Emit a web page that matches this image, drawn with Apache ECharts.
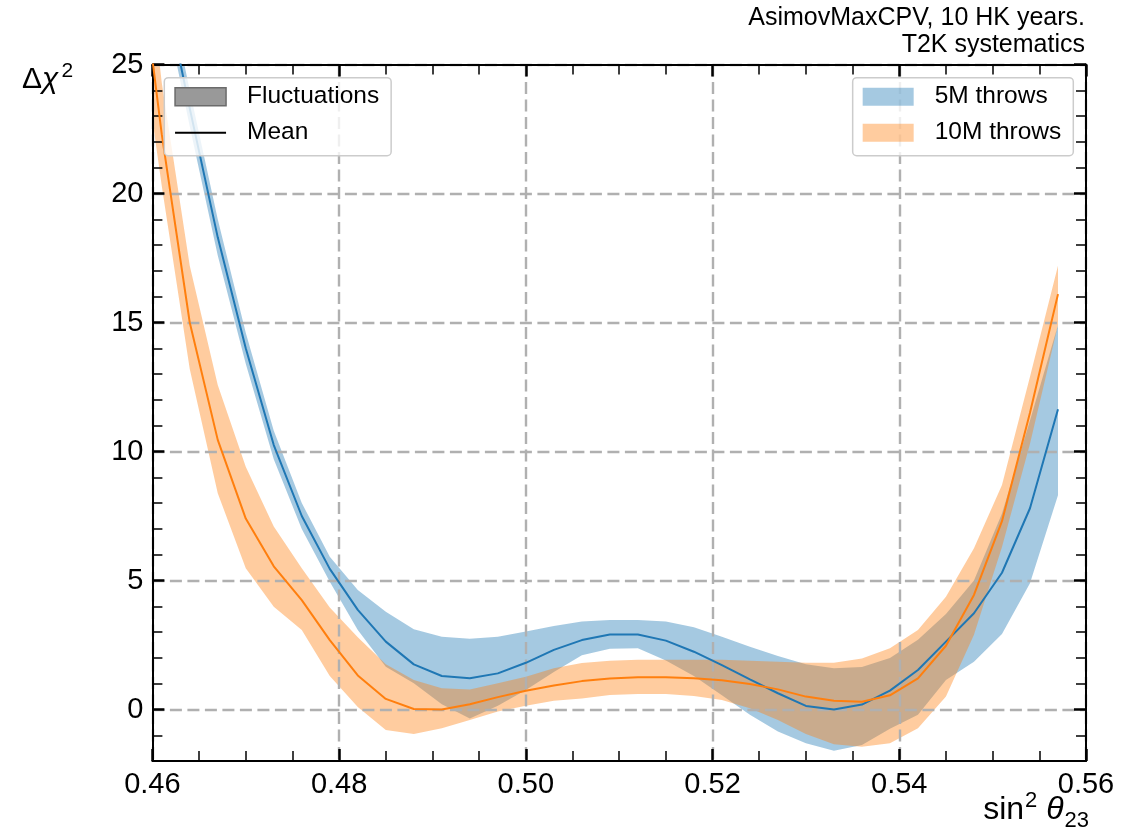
<!DOCTYPE html>
<html>
<head>
<meta charset="utf-8">
<script src="https://cdn.jsdelivr.net/npm/echarts@6/dist/echarts.min.js"></script>
<style>
html,body{margin:0;padding:0;background:#fff;}
#chart{width:1140px;height:832px;}
</style>
</head>
<body>
<div id="chart"></div>
<script>
// ---------------- data ----------------
const xValues = [0.458, 0.461, 0.464, 0.467, 0.470, 0.473, 0.476, 0.479, 0.482, 0.485,
                 0.488, 0.491, 0.494, 0.497, 0.500, 0.503, 0.506, 0.509, 0.512, 0.515,
                 0.518, 0.521, 0.524, 0.527, 0.530, 0.533, 0.536, 0.539, 0.542, 0.545,
                 0.548, 0.551, 0.554, 0.557];

const blueMean  = [34.0, 28.5, 23.3, 18.3, 14.0, 10.25, 7.5, 5.45, 3.86, 2.63,
                   1.75, 1.30, 1.21, 1.40, 1.81, 2.31, 2.69, 2.91, 2.91, 2.67,
                   2.24, 1.72, 1.17, 0.63, 0.14, 0.0, 0.19, 0.73, 1.53, 2.63,
                   3.73, 5.3, 7.8, 11.64];
const blueUpper = [34.8, 29.2, 24.0, 19.0, 14.6, 10.8, 8.0, 5.92, 4.63, 3.79,
                   3.11, 2.82, 2.74, 2.82, 3.02, 3.24, 3.41, 3.47, 3.47, 3.41,
                   3.19, 2.82, 2.43, 2.07, 1.75, 1.6, 1.65, 2.0, 2.7, 3.7,
                   5.0, 7.6, 11.2, 14.9];
const blueLower = [33.2, 27.8, 22.6, 17.6, 13.4, 9.7, 7.0, 4.95, 3.08, 1.66,
                   1.02, 0.2, -0.35, 0.15, 0.76, 1.45, 2.1, 2.35, 2.37, 1.9,
                   1.3, 0.55, -0.2, -0.85, -1.31, -1.6, -1.38, -0.75, -0.2, 1.14,
                   1.85, 2.93, 4.89, 8.3];

const orangeMean  = [31.0, 22.3, 15.0, 10.45, 7.4, 5.55, 4.24, 2.69, 1.32, 0.41,
                     0.02, 0.0, 0.2, 0.48, 0.73, 0.93, 1.1, 1.2, 1.25, 1.25,
                     1.21, 1.13, 0.99, 0.78, 0.5, 0.34, 0.30, 0.55, 1.21, 2.47,
                     4.44, 7.3, 11.5, 16.1];
const orangeUpper = [34.0, 24.3, 17.2, 12.58, 9.41, 7.09, 5.47, 3.95, 2.8, 1.75,
                     1.14, 0.82, 0.78, 1.02, 1.27, 1.6, 1.8, 1.89, 1.93, 1.93,
                     1.93, 1.93, 1.89, 1.85, 1.81, 1.81, 1.98, 2.37, 3.08, 4.37,
                     6.25, 8.7, 12.9, 17.2];
const orangeLower = [28.0, 20.3, 13.2, 8.38, 5.47, 3.98, 3.08, 1.3, 0.1, -0.79,
                     -0.95, -0.73, -0.41, -0.08, 0.15, 0.34, 0.43, 0.56, 0.6, 0.6,
                     0.52, 0.37, 0.05, -0.41, -0.95, -1.35, -1.44, -1.31, -0.73, 0.5,
                     2.9, 6.3, 10.3, 14.9];

const xTickValues = [0.46, 0.48, 0.50, 0.52, 0.54, 0.56];
const xTickLabels = ['0.46', '0.48', '0.50', '0.52', '0.54', '0.56'];
const yTickValues = [0, 5, 10, 15, 20, 25];
const yTickLabels = ['0', '5', '10', '15', '20', '25'];

const seriesNames = ['5M throws', '10M throws'];
const legendStyleNames = ['Fluctuations', 'Mean'];
const titleLines = ['AsimovMaxCPV, 10 HK years.', 'T2K systematics'];

// ---------------- helpers ----------------
const X_MIN = 0.46, X_MAX = 0.56, Y_MIN = -2, Y_MAX = 25;
const FONT = '"Liberation Sans", Arial, Helvetica, sans-serif';
const BLUE = '#1f77b4', ORANGE = '#ff7f0e';

const xMinorValues = [];
for (let i = 0; i <= 20; i++) { if (i % 4) xMinorValues.push(+(X_MIN + i * 0.005).toFixed(3)); }
const yMinorValues = [];
for (let v = Y_MIN; v <= Y_MAX; v++) { if (v % 5) yMinorValues.push(v); }

const pairs = ys => xValues.map((x, i) => [x, ys[i]]);
const labelFor = (vals, labels) => v => {
  const k = vals.findIndex(t => Math.abs(t - v) < 1e-9);
  return k >= 0 ? labels[k] : '';
};

const gridLine = { show: true, lineStyle: { color: '#b0b0b0', width: 2.4, type: [12, 5.5] } };
const axisLineOn = { show: true, onZero: false, lineStyle: { color: '#000', width: 2 } };
const off = { show: false };

function xAx(position, ticks, len, w, withLabel, withSplit, showLine) {
  return {
    type: 'value', position, min: X_MIN, max: X_MAX, z: 3,
    axisLine: showLine ? axisLineOn : { show: false, onZero: false },
    axisTick: { show: true, inside: true, length: len, customValues: ticks, lineStyle: { color: '#000', width: w } },
    axisLabel: withLabel ? {
      show: true, customValues: xTickValues, formatter: labelFor(xTickValues, xTickLabels),
      margin: 9, fontSize: 29, color: '#000', fontFamily: FONT
    } : off,
    splitLine: withSplit ? gridLine : off,
    minorTick: off, minorSplitLine: off
  };
}
function yAx(position, ticks, len, w, withLabel, withSplit, showLine) {
  return {
    type: 'value', position, min: Y_MIN, max: Y_MAX, z: 3,
    axisLine: showLine ? axisLineOn : { show: false, onZero: false },
    axisTick: { show: true, inside: true, length: len, customValues: ticks, lineStyle: { color: '#000', width: w } },
    axisLabel: withLabel ? {
      show: true, customValues: yTickValues, formatter: labelFor(yTickValues, yTickLabels),
      margin: 9, fontSize: 29, color: '#000', fontFamily: FONT
    } : off,
    splitLine: withSplit ? gridLine : off,
    minorTick: off, minorSplitLine: off
  };
}

// band drawn as one polygon (upper edge forward, lower edge back), positioned by the axes
function bandSeries(name, lower, upper, fill) {
  return {
    name, type: 'custom', coordinateSystem: 'cartesian2d', silent: true, z: 2,
    data: xValues.map((x, i) => [x, lower[i], upper[i]]),
    encode: { x: 0, y: [1, 2] },
    itemStyle: { color: fill },
    renderItem: (params, api) => {
      if (params.dataIndex !== 0) return null;
      const pts = [];
      for (let i = 0; i < xValues.length; i++) pts.push(api.coord([xValues[i], upper[i]]));
      for (let i = xValues.length - 1; i >= 0; i--) pts.push(api.coord([xValues[i], lower[i]]));
      const cs = params.coordSys;
      return {
        type: 'polygon', shape: { points: pts }, style: { fill: fill, stroke: null },
        clipPath: { type: 'rect', shape: { x: cs.x, y: cs.y, width: cs.width, height: cs.height } }
      };
    }
  };
}

const legendCommon = {
  orient: 'vertical', top: 77.7, selectedMode: false, z: 10,
  itemWidth: 51, itemHeight: 18, itemGap: 8,
  padding: [5, 12, 9, 10],
  backgroundColor: 'rgba(255,255,255,0.8)', borderColor: '#cccccc', borderWidth: 1.5, borderRadius: 4,
  textStyle: { fontSize: 24.5, fontFamily: FONT, color: '#000', lineHeight: 28, padding: [0, 0, 0, 16] }
};

const option = {
  animation: false,
  backgroundColor: '#ffffff',
  grid: { left: 152.4, top: 64.5, width: 933.6, height: 696.6, outerBoundsMode: 'none', containLabel: false },
  xAxis: [
    xAx('bottom', xTickValues, 12, 2.5, true, true, true),
    xAx('bottom', xMinorValues, 10, 1.5, false, false, false),
    xAx('top', xTickValues, 12, 2.5, false, false, true),
    xAx('top', xMinorValues, 10, 1.5, false, false, false)
  ],
  yAxis: [
    yAx('left', yTickValues, 12, 2.5, true, true, true),
    yAx('left', yMinorValues, 10, 1.5, false, false, false),
    yAx('right', yTickValues, 12, 2.5, false, false, true),
    yAx('right', yMinorValues, 10, 1.5, false, false, false)
  ],
  legend: [
    Object.assign({}, legendCommon, {
      id: 'style', left: 164.3,
      data: [
        { name: legendStyleNames[0], icon: 'rect', itemStyle: { color: '#999999', borderColor: '#6b6b6b', borderWidth: 1.5 } },
        { name: legendStyleNames[1], icon: 'path://M0,0M51,18M0,8H51V10H0Z', itemStyle: { color: '#000000', borderWidth: 0 } }
      ]
    }),
    Object.assign({}, legendCommon, {
      id: 'throws', right: 66.7,
      data: [
        { name: seriesNames[0], icon: 'rect', itemStyle: { color: 'rgba(31,119,180,0.4)', borderWidth: 0 } },
        { name: seriesNames[1], icon: 'rect', itemStyle: { color: 'rgba(255,127,14,0.4)', borderWidth: 0 } }
      ]
    })
  ],
  graphic: [
    {
      type: 'text', x: 1085, y: 5, z: 20,
      style: { text: titleLines.join('\n'), align: 'right', verticalAlign: 'top',
               font: '25px "Liberation Sans", Arial, sans-serif', lineHeight: 27, fill: '#000' }
    },
    {
      type: 'text', x: 22, y: 80, z: 20,
      style: {
        text: '{n|Δ}{i|χ}{s|2}', verticalAlign: 'middle', align: 'left',
        rich: {
          n: { fontSize: 30, fontFamily: FONT, fill: '#000', lineHeight: 42 },
          i: { fontSize: 30, fontFamily: FONT, fontStyle: 'italic', fill: '#000', lineHeight: 42 },
          s: { fontSize: 21, fontFamily: FONT, fill: '#000', verticalAlign: 'top', lineHeight: 21, padding: [2, 0, 0, 3] }
        }
      }
    },
    {
      type: 'text', x: 1089, y: 810, z: 20,
      style: {
        text: '{n|sin}{s|2}{n| }{i|θ}{b|23}', verticalAlign: 'middle', align: 'right',
        rich: {
          n: { fontSize: 32, fontFamily: FONT, fill: '#000', lineHeight: 44 },
          i: { fontSize: 32, fontFamily: FONT, fontStyle: 'italic', fill: '#000', lineHeight: 44 },
          s: { fontSize: 22, fontFamily: FONT, fill: '#000', verticalAlign: 'top', lineHeight: 22, padding: [2, 0, 0, 1] },
          b: { fontSize: 22, fontFamily: FONT, fill: '#000', verticalAlign: 'bottom', lineHeight: 22, padding: [0, 0, 0, 1] }
        }
      }
    }
  ],
  series: [
    bandSeries(seriesNames[0], blueLower, blueUpper, 'rgba(31,119,180,0.4)'),
    bandSeries(seriesNames[1], orangeLower, orangeUpper, 'rgba(255,127,14,0.4)'),
    { name: '5M mean', type: 'line', data: pairs(blueMean), symbol: 'none', silent: true,
      lineStyle: { color: BLUE, width: 2 }, itemStyle: { color: BLUE }, z: 4 },
    { name: '10M mean', type: 'line', data: pairs(orangeMean), symbol: 'none', silent: true,
      lineStyle: { color: ORANGE, width: 2 }, itemStyle: { color: ORANGE }, z: 4 },
    { name: legendStyleNames[0], type: 'line', data: [], symbol: 'none', itemStyle: { color: '#999' }, areaStyle: { color: '#999' } },
    { name: legendStyleNames[1], type: 'line', data: [], symbol: 'none', lineStyle: { color: '#000' }, itemStyle: { color: '#000' } }
  ]
};

const chart = echarts.init(document.getElementById('chart'), null, { renderer: 'canvas', width: 1140, height: 832 });
chart.setOption(option);
</script>
</body>
</html>
